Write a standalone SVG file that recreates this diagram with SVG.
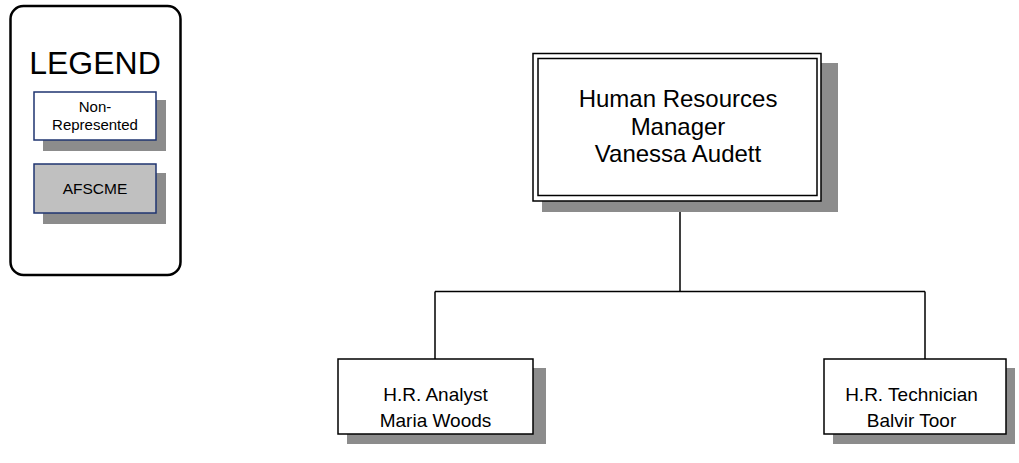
<svg xmlns="http://www.w3.org/2000/svg" width="1019" height="463" viewBox="0 0 1019 463">
  <style>
    .shadow { fill: #8c8c8c; }
    .box { fill: #ffffff; stroke: #000000; stroke-width: 1.5; }
    .legend-item { stroke: #1f3470; stroke-width: 1.5; }
    .txt { font-family: "Liberation Sans", Arial, sans-serif; fill: #000000; text-anchor: middle; }
    .conn { fill: none; stroke: #000000; stroke-width: 1.5; }
  </style>
  <rect width="1019" height="463" fill="#ffffff"/>

  <!-- Legend panel -->
  <g id="legend">
    <rect x="10.5" y="6" width="170" height="269" rx="13" ry="13" fill="#ffffff" stroke="#000000" stroke-width="2.5"/>
    <text class="txt" x="95" y="74" font-size="32">LEGEND</text>
    <g id="legend-nonrep">
      <rect class="shadow" x="43" y="100" width="123" height="51"/>
      <rect class="legend-item" x="34" y="92" width="122" height="48" fill="#ffffff"/>
      <text class="txt" x="95" y="112" font-size="15">Non-</text>
      <text class="txt" x="95" y="130" font-size="15">Represented</text>
    </g>
    <g id="legend-afscme">
      <rect class="shadow" x="43" y="173" width="123" height="51"/>
      <rect class="legend-item" x="34" y="164" width="122" height="49" fill="#c0c0c0"/>
      <text class="txt" x="95" y="194" font-size="15.5">AFSCME</text>
    </g>
  </g>

  <!-- Connectors -->
  <g id="connectors">
    <path class="conn" d="M680 201 V291.5 M435 291.5 H925 M435 291.5 V359 M925 291.5 V359"/>
  </g>

  <!-- Manager -->
  <g id="hr-manager">
    <rect class="shadow" x="542" y="63" width="296" height="149"/>
    <rect class="box" x="533" y="53.5" width="288" height="147.5"/>
    <rect class="box" x="538" y="58.5" width="279" height="137"/>
    <text class="txt" x="678" y="107" font-size="24">Human Resources</text>
    <text class="txt" x="678" y="134.5" font-size="24">Manager</text>
    <text class="txt" x="678" y="162" font-size="24">Vanessa Audett</text>
  </g>

  <!-- Analyst -->
  <g id="hr-analyst">
    <rect class="shadow" x="347" y="368" width="199" height="76"/>
    <rect class="box" x="338" y="359" width="195" height="75"/>
    <text class="txt" x="435.5" y="401" font-size="19">H.R. Analyst</text>
    <text class="txt" x="435.5" y="427" font-size="19">Maria Woods</text>
  </g>

  <!-- Technician -->
  <g id="hr-technician">
    <rect class="shadow" x="833" y="368" width="182" height="76"/>
    <rect class="box" x="824" y="359" width="182" height="75"/>
    <text class="txt" x="911.5" y="401" font-size="19">H.R. Technician</text>
    <text class="txt" x="911.5" y="427" font-size="19">Balvir Toor</text>
  </g>
</svg>
